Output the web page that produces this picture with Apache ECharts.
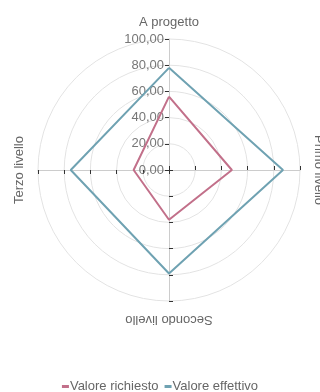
<!DOCTYPE html>
<html>
<head>
<meta charset="utf-8">
<script src="https://cdn.jsdelivr.net/npm/echarts@6/dist/echarts.min.js"></script>
<style>
html,body{margin:0;padding:0;background:#fff;}
#chart{width:320px;height:392px;}
</style>
</head>
<body>
<div id="chart"></div>
<script>
// categorie in senso orario a partire dall'alto
var categories = ['A progetto', 'Primo livello', 'Secondo livello', 'Terzo livello'];
var valoreRichiesto = [56, 48, 38, 27];
var valoreEffettivo = [78, 87, 79, 75];
var seriesNames = ['Valore richiesto', 'Valore effettivo'];
var colors = ['#c2708a', '#6fa2b2'];

var chart = echarts.init(document.getElementById('chart'));

var center = [169, 170];
var radius = 131;
// angolo di partenza di ogni asse (top, right, bottom, left)
var startAngles = [90, 0, 270, 180];
var nameRotates = [0, -90, 180, 90];
var nameGaps = [10, 12, 12, 12];

function toPolar(vals){
	var out = [];
	for(var i=0;i<vals.length;i++){
		out.push([vals[i], i*360/vals.length]);
	}
	out.push([vals[0], 360]);
	return out;
}

var polar = [], angleAxis = [], radiusAxis = [];
for(var i=0;i<categories.length;i++){
	polar.push({center: center, radius: radius});
	angleAxis.push({
		polarIndex: i,
		type: 'value',
		min: 0,
		max: 360,
		startAngle: startAngles[i],
		clockwise: true,
		axisLine: {show: false},
		axisTick: {show: false},
		axisLabel: {show: false},
		splitLine: {show: false}
	});
	radiusAxis.push({
		polarIndex: i,
		type: 'value',
		min: 0,
		max: 100,
		interval: 20,
		name: categories[i],
		nameLocation: 'end',
		nameGap: nameGaps[i],
		nameRotate: nameRotates[i],
		nameTextStyle: {color: '#666', fontSize: 13, fontFamily: 'Liberation Sans'},
		axisLine: {show: true, lineStyle: {color: '#cccccc', width: 1}},
		axisTick: {show: true, length: 4, lineStyle: {color: '#333', width: 1}},
		axisLabel: {
			show: i === 0,
			color: '#777',
			fontSize: 13,
			fontFamily: 'Liberation Sans',
			margin: 5,
			formatter: function(v){ return v.toFixed(2).replace('.', ','); }
		},
		splitLine: {show: i === 0, lineStyle: {color: '#e3e3e3', width: 1}}
	});
}

var option = {
	animation: false,
	color: colors,
	legend: {
		top: 375,
		left: 'center',
		icon: 'rect',
		itemWidth: 7,
		itemHeight: 3,
		itemGap: 6,
		textStyle: {color: '#666', fontSize: 13, fontFamily: 'Liberation Sans', padding: [0, 0, 0, -4]},
		data: seriesNames
	},
	polar: polar,
	angleAxis: angleAxis,
	radiusAxis: radiusAxis,
	series: [
		{
			name: seriesNames[0],
			type: 'line',
			coordinateSystem: 'polar',
			polarIndex: 0,
			showSymbol: false,
			lineStyle: {width: 2},
			data: toPolar(valoreRichiesto)
		},
		{
			name: seriesNames[1],
			type: 'line',
			coordinateSystem: 'polar',
			polarIndex: 0,
			showSymbol: false,
			lineStyle: {width: 2},
			data: toPolar(valoreEffettivo)
		}
	]
};
chart.setOption(option);
</script>
</body>
</html>
